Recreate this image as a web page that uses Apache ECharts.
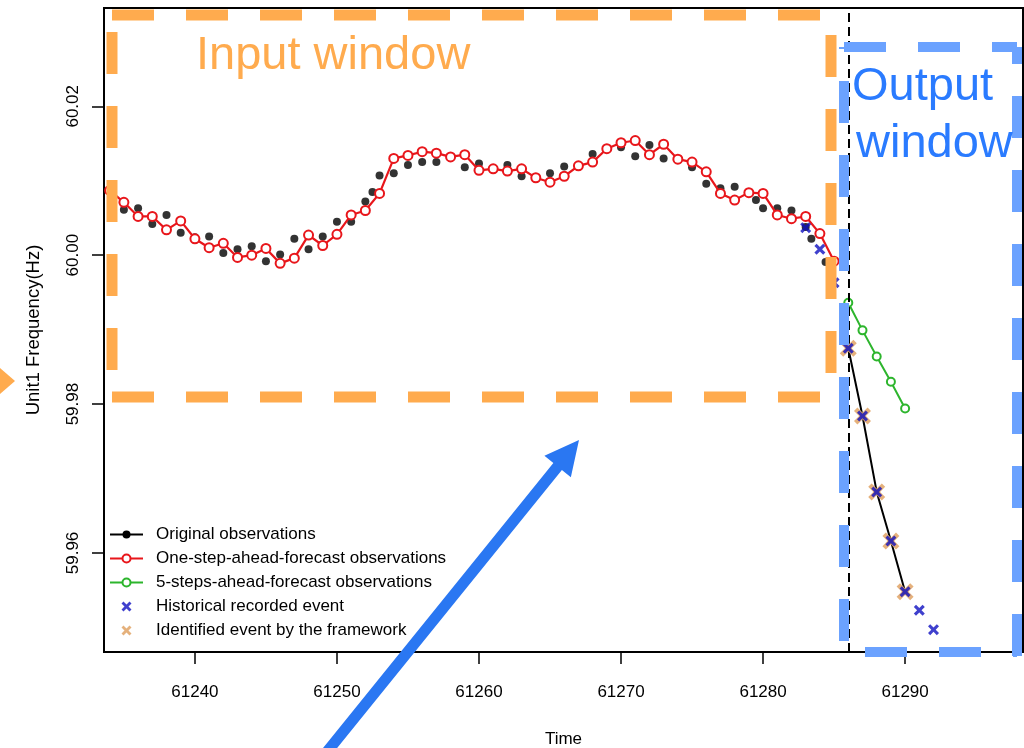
<!DOCTYPE html>
<html>
<head>
<meta charset="utf-8">
<title>Unit1 Frequency forecast</title>
<script src="https://cdn.jsdelivr.net/npm/echarts@6/dist/echarts.min.js"></script>
<style>
  html, body { margin: 0; padding: 0; background: #fff; }
  #chart { width: 1024px; height: 748px; }
</style>
</head>
<body>
<div id="chart"></div>
<script>
// Original observations (scatter part, before the event)
const obsTime = [61235, 61236, 61237, 61238, 61239, 61240, 61241, 61242, 61243, 61244,
  61245, 61246, 61247, 61248, 61249, 61250, 61251, 61252, 61252.5, 61253,
  61254, 61255, 61256, 61257, 61258, 61259, 61260, 61261, 61262, 61263,
  61264, 61265, 61266, 61267, 61268, 61269, 61270, 61271, 61272, 61273,
  61274, 61275, 61276, 61277, 61278, 61279, 61279.5, 61280, 61281, 61282,
  61283, 61283.4, 61284.4];
const obsValue = [60.0061, 60.0063, 60.0042, 60.0054, 60.0030, 60.0024, 60.0025, 60.0003, 60.0008, 60.0012,
  59.9992, 60.0001, 60.0022, 60.0008, 60.0025, 60.0045, 60.0045, 60.0072, 60.0085, 60.0107,
  60.0110, 60.0121, 60.0125, 60.0125, 60.0132, 60.0118, 60.0123, 60.0116, 60.0121, 60.0106,
  60.0104, 60.0110, 60.0119, 60.0120, 60.0136, 60.0143, 60.0145, 60.0133, 60.0148, 60.0130,
  60.0128, 60.0118, 60.0096, 60.0090, 60.0092, 60.0084, 60.0074, 60.0063, 60.0063, 60.0060,
  60.0038, 60.0022, 59.9991];

// Original observations during the event (drawn as a connected line)
const eventTime = [61286, 61287, 61288, 61289, 61290];
const eventValue = [59.9875, 59.9784, 59.9682, 59.9616, 59.9548];

// One-step-ahead forecast
const oneStepTime = [61234, 61235, 61236, 61237, 61238, 61239, 61240, 61241, 61242, 61243,
  61244, 61245, 61246, 61247, 61248, 61249, 61250, 61251, 61252, 61253,
  61254, 61255, 61256, 61257, 61258, 61259, 61260, 61261, 61262, 61263,
  61264, 61265, 61266, 61267, 61268, 61269, 61270, 61271, 61272, 61273,
  61274, 61275, 61276, 61277, 61278, 61279, 61280, 61281, 61282, 61283,
  61284, 61285];
const oneStepValue = [60.0087, 60.0071, 60.0052, 60.0052, 60.0034, 60.0046, 60.0022, 60.0010, 60.0016, 59.9997,
  60.0000, 60.0009, 59.9989, 59.9996, 60.0027, 60.0013, 60.0028, 60.0054, 60.0060, 60.0083,
  60.0130, 60.0134, 60.0139, 60.0137, 60.0132, 60.0135, 60.0114, 60.0116, 60.0113, 60.0116,
  60.0104, 60.0098, 60.0106, 60.0120, 60.0125, 60.0143, 60.0151, 60.0154, 60.0135, 60.0149,
  60.0129, 60.0125, 60.0112, 60.0083, 60.0074, 60.0084, 60.0083, 60.0054, 60.0049, 60.0052,
  60.0029, 59.9992];

// Five-steps-ahead forecast
const fiveStepTime = [61286, 61287, 61288, 61289, 61290];
const fiveStepValue = [59.9936, 59.9899, 59.9864, 59.9830, 59.9794];

// Historical recorded event
const histTime = [61283, 61284, 61285, 61286, 61287, 61288, 61289, 61290, 61291, 61292];
const histValue = [60.0037, 60.0008, 59.9963, 59.9875, 59.9784, 59.9682, 59.9616, 59.9548, 59.9523, 59.9497];

// Event identified by the framework
const identTime = [61286, 61287, 61288, 61289, 61290];
const identValue = [59.9875, 59.9784, 59.9682, 59.9616, 59.9548];

// Event onset marker
const eventStart = 61286;

// Axis ticks
const xTicks = [61240, 61250, 61260, 61270, 61280, 61290];
const yTicks = [59.96, 59.98, 60.00, 60.02];

const seriesNames = [
  'Original observations',
  'One-step-ahead-forecast observations',
  '5-steps-ahead-forecast observations',
  'Historical recorded event',
  'Identified event by the framework'
];

const pairs = (t, v) => t.map((x, i) => [x, v[i]]);

const FONT = 'Liberation Sans, Arial, sans-serif';
const CROSS = 'path://M2,0L5,3L8,0L10,2L7,5L10,8L8,10L5,7L2,10L0,8L3,5L0,2Z';

const chart = echarts.init(document.getElementById('chart'), null, { renderer: 'canvas' });

// Dashed annotation boxes: each side drawn separately
function dashedSide(x1, y1, x2, y2, color, width, offset) {
  return {
    type: 'line', z: 100,
    shape: { x1, y1, x2, y2 },
    style: { stroke: color, lineWidth: width, lineDash: [42, 32], lineDashOffset: offset, lineCap: 'butt' },
    silent: true
  };
}

const ORANGE = '#FFAB4E';
const BOX_BLUE = '#6BA2FF';
const TEXT_BLUE = '#2A7BFF';
const ARROW_BLUE = '#2A77F2';

// Arrow geometry
function arrowPolygon(tail, tip, shaftHalf, headLen, headHalf) {
  const dx = tip[0] - tail[0], dy = tip[1] - tail[1];
  const len = Math.sqrt(dx * dx + dy * dy);
  const ux = dx / len, uy = dy / len;
  const nx = -uy, ny = ux;
  const bx = tip[0] - ux * headLen, by = tip[1] - uy * headLen;
  return [
    [tail[0] + nx * shaftHalf, tail[1] + ny * shaftHalf],
    [bx + nx * shaftHalf, by + ny * shaftHalf],
    [bx + nx * headHalf, by + ny * headHalf],
    tip,
    [bx - nx * headHalf, by - ny * headHalf],
    [bx - nx * shaftHalf, by - ny * shaftHalf],
    [tail[0] - nx * shaftHalf, tail[1] - ny * shaftHalf]
  ];
}

const option = {
  animation: false,
  backgroundColor: '#fff',
  grid: {
    left: 104, top: 8, right: 1, bottom: 96,
    outerBoundsMode: 'none',
    show: true, borderColor: '#000', borderWidth: 2, backgroundColor: 'transparent'
  },
  xAxis: {
    type: 'value',
    min: 61233.6, max: 61298.3,
    name: 'Time', nameLocation: 'middle', nameGap: 79,
    nameTextStyle: { fontFamily: FONT, fontSize: 17, color: '#000' },
    axisLine: { show: false },
    splitLine: { show: false },
    axisTick: { show: true, length: 12, lineStyle: { color: '#000', width: 1.5 }, customValues: xTicks },
    axisLabel: { margin: 32, fontFamily: FONT, fontSize: 17, color: '#000', customValues: xTicks, formatter: v => String(v) }
  },
  yAxis: {
    type: 'value',
    min: 59.9467, max: 60.0332,
    name: 'Unit1 Frequency(Hz)', nameLocation: 'middle', nameGap: 61, nameRotate: 90,
    nameTextStyle: { fontFamily: FONT, fontSize: 18.5, color: '#000' },
    axisLine: { show: false },
    splitLine: { show: false },
    axisTick: { show: true, length: 12, lineStyle: { color: '#000', width: 1.5 }, customValues: yTicks },
    axisLabel: { margin: 22, rotate: 90, fontFamily: FONT, fontSize: 17, color: '#000', customValues: yTicks, formatter: v => v.toFixed(2) }
  },
  legend: {
    orient: 'vertical', left: 109, top: 526, padding: 0,
    itemWidth: 33, itemHeight: 10, itemGap: 7,
    textStyle: { fontFamily: FONT, fontSize: 17, color: '#000', lineHeight: 17, padding: [0, 0, 0, 8] },
    data: seriesNames,
    selectedMode: false
  },
  series: [
    {
      name: seriesNames[0], type: 'line',
      data: pairs(eventTime, eventValue),
      symbol: 'circle', symbolSize: 6,
      itemStyle: { color: '#000' },
      lineStyle: { color: '#000', width: 2 },
      z: 3,
      markLine: {
        silent: true, symbol: 'none',
        label: { show: false },
        lineStyle: { color: '#000', type: [9, 5], width: 2 },
        data: [{ xAxis: eventStart }]
      }
    },
    {
      name: seriesNames[0], type: 'scatter',
      data: pairs(obsTime, obsValue),
      symbol: 'circle', symbolSize: 8,
      itemStyle: { color: '#000' },
      z: 2
    },
    {
      name: seriesNames[1], type: 'line',
      data: pairs(oneStepTime, oneStepValue),
      symbol: 'emptyCircle', symbolSize: 9,
      itemStyle: { color: '#E8161B', borderColor: '#E8161B', borderWidth: 2.2 },
      lineStyle: { color: '#E8161B', width: 2.2 },
      z: 4
    },
    {
      name: seriesNames[2], type: 'line',
      data: pairs(fiveStepTime, fiveStepValue),
      symbol: 'emptyCircle', symbolSize: 8,
      itemStyle: { color: '#2DB52D', borderColor: '#2DB52D', borderWidth: 1.8 },
      lineStyle: { color: '#2DB52D', width: 2 },
      z: 4
    },
    {
      name: seriesNames[4], type: 'scatter',
      data: pairs(identTime, identValue),
      symbol: CROSS, symbolSize: 17, symbolKeepAspect: true,
      itemStyle: { color: '#E2A96E', opacity: 0.9 },
      z: 5
    },
    {
      name: seriesNames[3], type: 'scatter',
      data: pairs(histTime, histValue),
      symbol: CROSS, symbolSize: 11, symbolKeepAspect: true,
      itemStyle: { color: '#0F10C0' },
      z: 6
    }
  ],
  graphic: [
    // Input window box
    dashedSide(112, 15, 836, 15, ORANGE, 11, 0),
    dashedSide(112, 397, 836, 397, ORANGE, 11, 0),
    dashedSide(112, 32, 112, 397, ORANGE, 11, 0),
    dashedSide(831, 35, 831, 397, ORANGE, 11, 0),
    // Output window box
    dashedSide(844, 47, 1017, 47, BOX_BLUE, 10, 0),
    dashedSide(844, 652, 1017, 652, BOX_BLUE, 10, 53),
    dashedSide(844, 47, 844, 652, BOX_BLUE, 10, 40),
    dashedSide(1017, 47, 1017, 657, BOX_BLUE, 10, 25),
    {
      type: 'text', z: 101, silent: true,
      style: { text: 'Input window', x: 196, y: 56, verticalAlign: 'middle', font: '47px ' + FONT, fill: ORANGE }
    },
    {
      type: 'text', z: 101, silent: true,
      style: { text: 'Output', x: 852, y: 87, verticalAlign: 'middle', font: '47px ' + FONT, fill: TEXT_BLUE }
    },
    {
      type: 'text', z: 101, silent: true,
      style: { text: 'window', x: 856, y: 144, verticalAlign: 'middle', font: '47px ' + FONT, fill: TEXT_BLUE }
    },
    {
      type: 'polygon', z: 101, silent: true,
      shape: { points: [[0, 368], [15, 381], [0, 394]] },
      style: { fill: ORANGE }
    },
    {
      type: 'polygon', z: 101, silent: true,
      shape: { points: arrowPolygon([322, 758], [579, 440], 5.5, 34, 17) },
      style: { fill: ARROW_BLUE }
    }
  ]
};

chart.setOption(option);
</script>
</body>
</html>
